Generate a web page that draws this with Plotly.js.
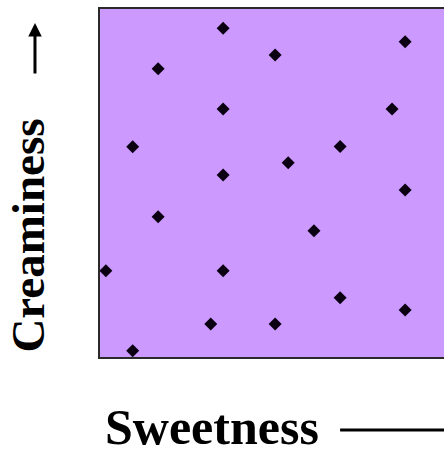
<!DOCTYPE html>
<html>
<head>
<meta charset="utf-8">
<script src="https://cdn.plot.ly/plotly-3.0.1.min.js"></script>
<style>html,body{margin:0;padding:0;overflow:hidden;background:#fff}</style>
</head>
<body>
<div id="chart" style="width:444px;height:452px"></div>
<script>
var sweetness  = [3.58, 8.87, 5.09, 1.69, 3.58, 8.49, 0.95, 6.98, 5.47, 3.58, 8.87, 1.69, 6.22, 0.17, 3.58, 6.98, 8.87, 3.22, 5.09, 0.95];
var creaminess = [9.45, 9.06, 8.68, 8.28, 7.13, 7.13, 6.04, 6.05, 5.58, 5.23, 4.80, 4.03, 3.63, 2.48, 2.48, 1.70, 1.35, 0.95, 0.95, 0.18];
var xLabel = 'Sweetness';
var yLabel = 'Creaminess';

var trace = {
  x: sweetness, y: creaminess,
  type: 'scatter', mode: 'markers',
  marker: {symbol: 'diamond', size: 10, color: '#0a0012'},
  hoverinfo: 'none', cliponaxis: false
};

var serif = 'Liberation Serif, Times New Roman, serif';
var layout = {
  width: 444, height: 452,
  margin: {l: 100, r: 0, t: 9, b: 95, pad: 0},
  paper_bgcolor: '#ffffff',
  plot_bgcolor: '#cc99ff',
  showlegend: false,
  xaxis: {range: [0, 10], showgrid: false, zeroline: false, showticklabels: false, ticks: '',
          showline: true, mirror: true, linecolor: '#2a2a2a', linewidth: 2, fixedrange: true},
  yaxis: {range: [0, 10], showgrid: false, zeroline: false, showticklabels: false, ticks: '',
          showline: true, mirror: false, linecolor: '#2a2a2a', linewidth: 2, fixedrange: true},
  shapes: [
    {type: 'line', xref: 'paper', yref: 'paper', x0: 0.698, x1: 1.2, y0: -0.21, y1: -0.21,
     line: {color: '#000', width: 3}}
  ],
  annotations: [
    {xref: 'paper', yref: 'paper', x: 0.327, y: -0.2, xanchor: 'center', yanchor: 'middle',
     text: '<b>' + xLabel + '</b>', showarrow: false, font: {family: serif, size: 50, color: '#000'}},
    {xref: 'paper', yref: 'paper', x: -0.212, y: 0.349, xanchor: 'center', yanchor: 'middle',
     text: '<b>' + yLabel + '</b>', textangle: -90, showarrow: false, font: {family: serif, size: 47, color: '#000'}},
    {xref: 'paper', yref: 'paper', x: -0.189, y: 0.960, text: '', showarrow: true,
     ax: 0, ay: 52, arrowhead: 2, arrowsize: 0.9, arrowwidth: 3, arrowcolor: '#000'}
  ]
};

Plotly.newPlot('chart', [trace], layout, {displayModeBar: false, staticPlot: true});
</script>
</body>
</html>
